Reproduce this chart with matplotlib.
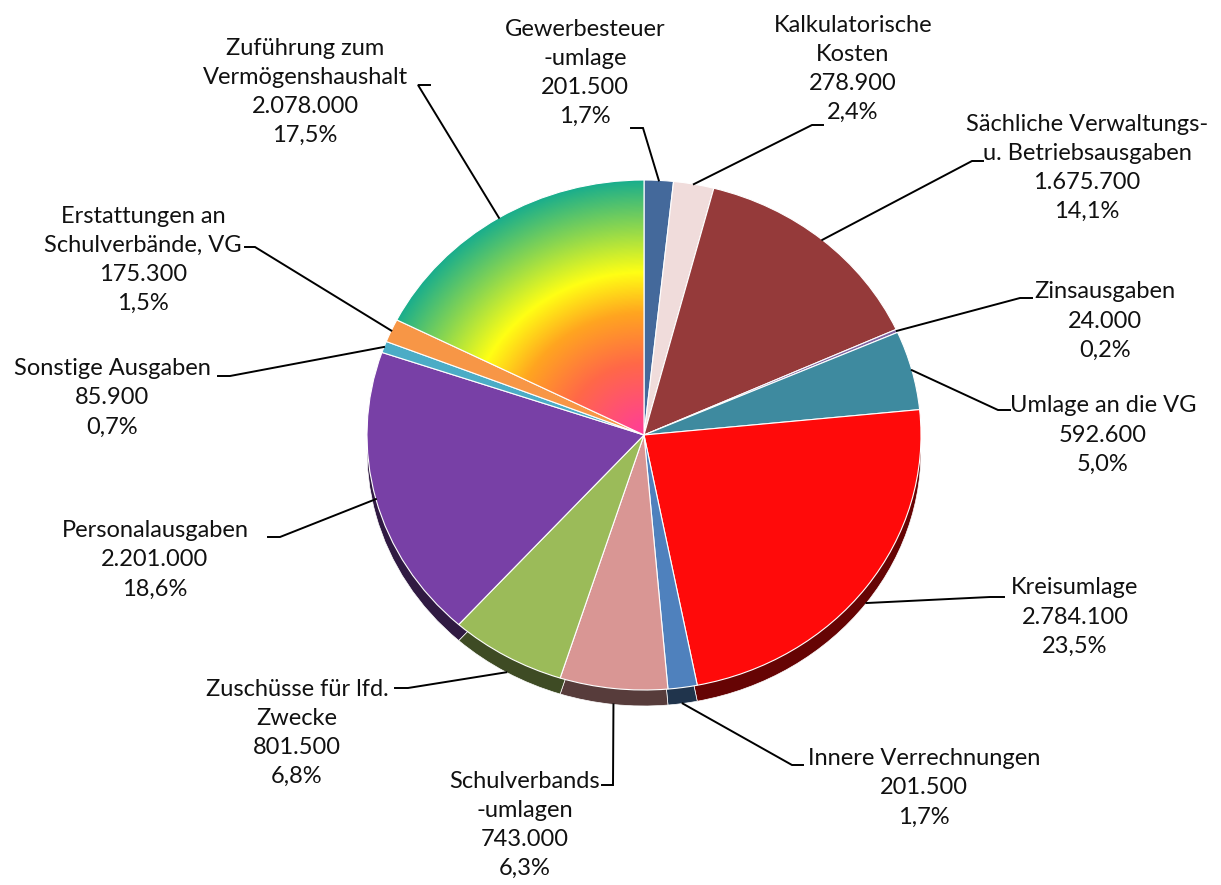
"""
Ausgaben Verwaltungshaushalt - Tortendiagramm mit leichtem 3D-Rand
"""

import matplotlib
matplotlib.use('Agg')
import matplotlib.pyplot as plt
import numpy as np
from matplotlib.colors import LinearSegmentedColormap, to_rgb

# Daten (im Uhrzeigersinn ab 12 Uhr)
categories = [
    'Gewerbesteuer\n-umlage',
    'Kalkulatorische\nKosten',
    'Sächliche Verwaltungs-\nu. Betriebsausgaben',
    'Zinsausgaben',
    'Umlage an die VG',
    'Kreisumlage',
    'Innere Verrechnungen',
    'Schulverbands\n-umlagen',
    'Zuschüsse für lfd.\nZwecke',
    'Personalausgaben',
    'Sonstige Ausgaben',
    'Erstattungen an\nSchulverbände, VG',
    'Zuführung zum\nVermögenshaushalt',
]
values = [201500, 278900, 1675700, 24000, 592600, 2784100, 201500,
          743000, 801500, 2201000, 85900, 175300, 2078000]
colors = ['#44699B', '#F0DCDB', '#953A3A', '#8064A2', '#3E8A9F', '#FF0A0A',
          '#4F81BD', '#D99694', '#9BBB59', '#7840A6', '#4BACC6', '#F79646',
          '#1AAE8C']

# Verlauf fuer "Zuführung zum Vermögenshaushalt" (von innen nach aussen)
gradient_stops = [(0.0, '#FF3C9A'), (0.28, '#FF6848'), (0.48, '#FFA520'),
                  (0.64, '#FFFF14'), (0.82, '#8AD650'), (1.0, '#1AAE8C')]

# Label-Positionen in Pixeln (Textmitte) und Knickpunkt der Fuehrungslinie
label_pos = [(585, 73), (853, 69), (1087, 168), (1105, 321), (1103, 435),
             (1075, 617), (924, 788), (525, 825), (297, 733), (155, 560),
             (112, 398), (143, 260), (305, 92)]
elbow_pos = [(643, 128), (812, 125), (972, 161), (1020, 298), (998, 410),
             (990, 597), (792, 765), (613, 785), (408, 688), (280, 537),
             (230, 376), (255, 247), (418, 85)]
tick_end = [(631, 128), (823, 125), (983, 161), (1032, 298), (1010, 410),
            (1004, 597), (803, 765), (602, 785), (395, 688), (268, 537),
            (218, 376), (245, 247), (430, 85)]

W, H = 1221, 885
fig = plt.figure(figsize=(W / 100, H / 100), dpi=100)

# Achse fuer die Torte: Box = Ellipse der Oberflaeche
pie_left, pie_right, pie_top, pie_bottom = 367, 921, 180, 690
ax = fig.add_axes([pie_left / W, (H - pie_bottom) / H,
                   (pie_right - pie_left) / W, (pie_bottom - pie_top) / H])
depth = 16 / ((pie_bottom - pie_top) / 2)

side_colors = [tuple(c * 0.4 for c in to_rgb(col)) for col in colors]
side_wedges, _ = ax.pie(values, colors=side_colors, startangle=90, counterclock=False,
                        center=(0, -depth),
                        wedgeprops=dict(edgecolor='white', linewidth=0.5))
wedges, _ = ax.pie(values, colors=colors, startangle=90, counterclock=False,
                   wedgeprops=dict(edgecolor='white', linewidth=0.8))
for w in side_wedges + wedges:
    w.set_clip_on(False)

# Farbverlauf in das letzte Segment
cmap = LinearSegmentedColormap.from_list('zufuehrung', gradient_stops)
gx, gy = np.meshgrid(np.linspace(-1, 1, 600), np.linspace(-1, 1, 600))
grad = np.sqrt(gx ** 2 + gy ** 2)
im = ax.imshow(grad, cmap=cmap, vmin=0, vmax=1, extent=(-1, 1, -1, 1),
               origin='lower', interpolation='bilinear', zorder=2)
im.set_clip_path(wedges[-1])
wedges[-1].set_facecolor('none')
wedges[-1].set_zorder(3)

ax.set_aspect('auto')
ax.set_xlim(-1, 1)
ax.set_ylim(-1, 1)
ax.axis('off')

# Overlay-Achse in Pixelkoordinaten fuer Beschriftungen
ov = fig.add_axes([0, 0, 1, 1])
ov.set_xlim(0, W)
ov.set_ylim(H, 0)
ov.axis('off')

total = sum(values)
theta = 90.0
for i, (name, val) in enumerate(zip(categories, values)):
    frac = val / total
    mid = np.deg2rad(theta - frac * 180.0)
    theta -= frac * 360.0
    ex, ey = np.cos(mid), np.sin(mid)
    if ey < -0.5:
        ey -= depth
    px, py = ax.transData.transform((ex, ey))
    sx, sy = ov.transData.inverted().transform((px, py))

    bx, by = elbow_pos[i]
    tx, ty = tick_end[i]
    ov.plot([sx, bx, tx], [sy, by, ty], color='black', linewidth=1.4,
            solid_joinstyle='miter')

    value_txt = f"{val:,}".replace(',', '.')
    pct_txt = f"{frac * 100:.1f}".replace('.', ',') + '%'
    lx, ly = label_pos[i]
    ov.text(lx, ly, f"{name}\n{value_txt}\n{pct_txt}", ha='center', va='center',
            fontsize=17, family='Lato', linespacing=1.48, color='#111111')

plt.savefig('out.png', dpi=100)
plt.close()
